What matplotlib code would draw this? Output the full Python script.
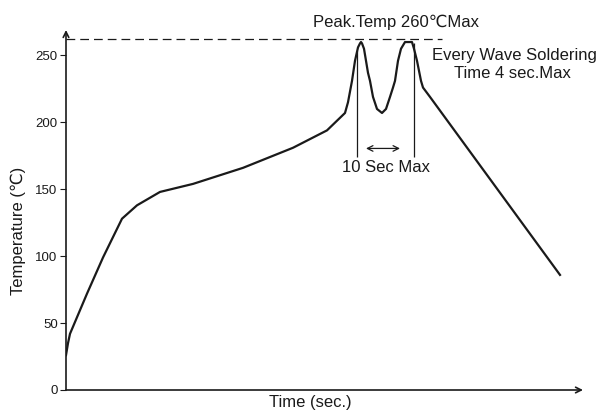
import matplotlib
matplotlib.use('Agg')
import matplotlib.pyplot as plt

plt.rcParams['font.family'] = ['Liberation Sans', 'DejaVu Sans']

# reflow profile (time in arbitrary sec., temperature in C)
time = [0, 2, 4, 21, 37, 56, 71, 94, 127, 177, 227, 261, 279, 282, 286, 289,
        292, 294, 295, 296, 298, 300, 302, 304, 307, 311, 316, 320, 324, 327,
        329, 332, 335, 339, 346, 348, 351, 355, 357, 364, 494]
temp = [26, 35, 42, 72, 99, 128, 138, 148, 154, 166, 181, 194, 207, 215, 231, 246,
        256, 259, 260, 259, 255, 246, 237, 231, 219, 210, 207, 210, 219, 226,
        231, 246, 255, 260, 260, 255, 246, 231, 226, 219, 86]
yticks = [0, 50, 100, 150, 200, 250]
peak_temp = 262
wave_left, wave_right = 291, 348

col = '#1a1a1a'
fig = plt.figure(figsize=(6.04, 4.13), dpi=100)
ax = fig.add_axes([66 / 604, 23 / 413, 517 / 604, 360 / 413])
ax.set_xlim(0, 517)
ax.set_ylim(0, 269)
for s in ax.spines.values():
    s.set_visible(False)

# axes with open arrow heads
ax.annotate('', xy=(1, 0), xytext=(0, 0), xycoords='axes fraction',
            arrowprops=dict(arrowstyle='->', lw=1.2, color=col, shrinkA=0, shrinkB=0))
ax.annotate('', xy=(0, 1), xytext=(0, 0), xycoords='axes fraction',
            arrowprops=dict(arrowstyle='->', lw=1.2, color=col, shrinkA=0, shrinkB=0))

ax.set_xticks([])
ax.set_yticks(yticks)
ax.tick_params(axis='y', direction='out', length=4, width=0.8, colors=col,
               labelsize=9.5, pad=2)

ax.plot(time, temp, color=col, lw=1.6, solid_joinstyle='round')
ax.plot([0, 376], [peak_temp, peak_temp], color=col, lw=0.9, dashes=(7, 4))

ax.vlines([wave_left, wave_right], 174, [253, 259], color=col, lw=0.9)
ax.annotate('', xy=(300, 180.5), xytext=(334, 180.5),
            arrowprops=dict(arrowstyle='<->', lw=0.9, color=col, shrinkA=0, shrinkB=0))

fs = 12
ax.text(320, 166, '10 Sec Max', ha='center', va='center', fontsize=fs, color=col)
ax.text(330, 275, 'Peak.Temp 260\u2103Max', ha='center', va='center', fontsize=fs,
        color=col, clip_on=False)
ax.text(448, 250, 'Every Wave Soldering', ha='center', va='center', fontsize=fs,
        color=col, clip_on=False)
ax.text(446, 236.5, 'Time 4 sec.Max', ha='center', va='center', fontsize=fs, color=col)

ax.text(0.472, -0.036, 'Time (sec.)', transform=ax.transAxes, ha='center', va='center',
        fontsize=fs, color=col, clip_on=False)
ax.text(-0.093, 0.443, 'Temperature (\u2103)', transform=ax.transAxes, ha='center',
        va='center', rotation=90, fontsize=fs, color=col, clip_on=False)

fig.savefig('out.png', dpi=100)
